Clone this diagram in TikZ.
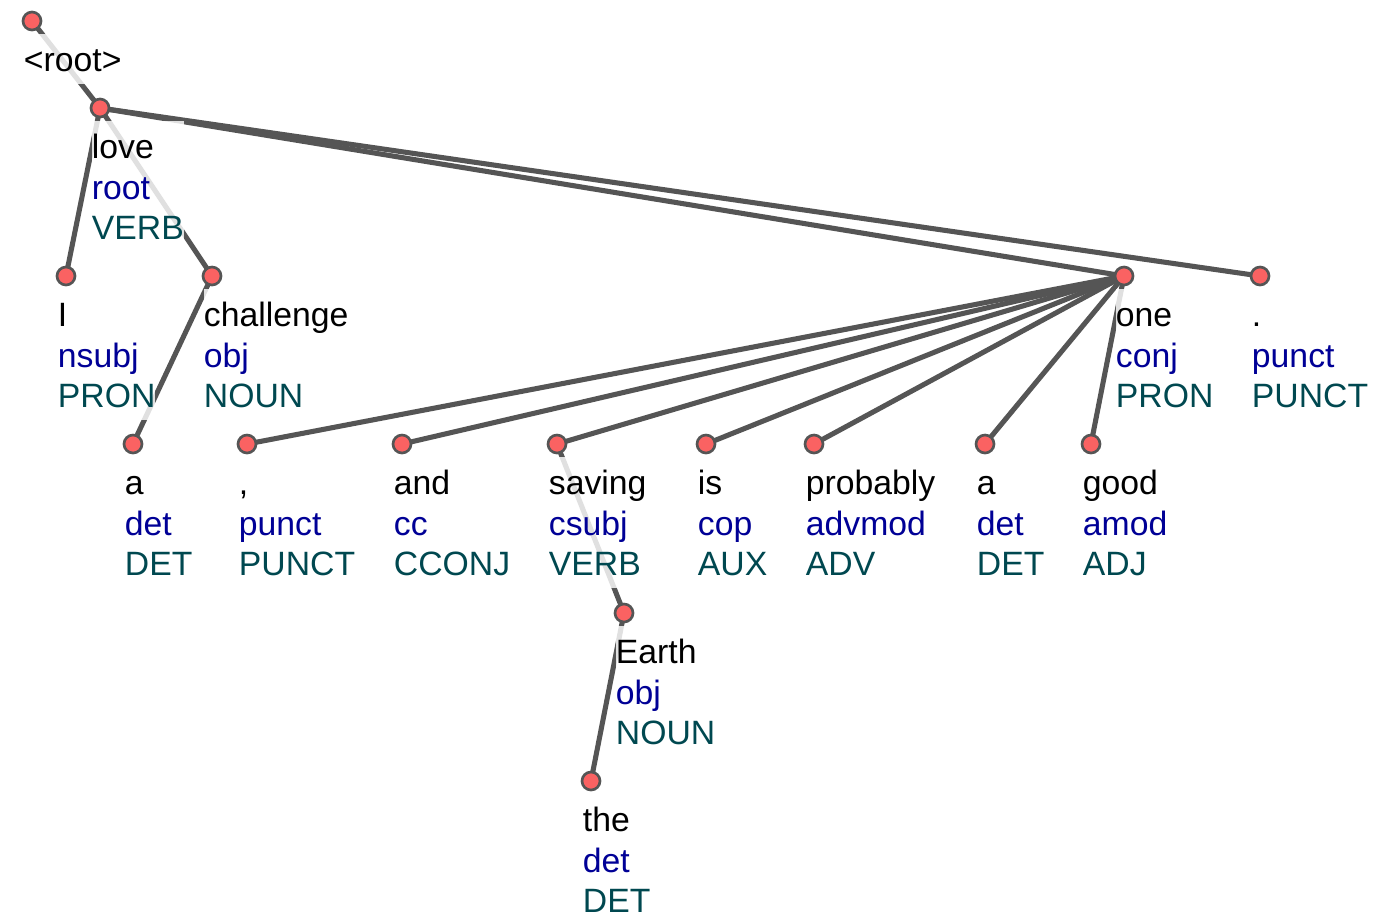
\documentclass[tikz,border=0pt]{standalone}
\usepackage{fontspec}
\setmainfont{Liberation Sans}
\usetikzlibrary{backgrounds}
\definecolor{tokred}{RGB}{250,98,98}
\definecolor{edgegray}{RGB}{85,85,85}
\definecolor{relblue}{RGB}{0,0,150}
\definecolor{posteal}{RGB}{0,72,80}
\tikzset{every picture/.style={line width=0.75pt}}
\tikzset{
  tok/.style={circle, draw=edgegray, fill=tokred, line width=2pt, inner sep=0pt, minimum size=13.5pt},
  dep/.style={draw=edgegray, line width=3.8pt},
  lbl/.style={anchor=north west, xshift=-6.4pt, yshift=-9.5pt, inner sep=0pt, fill=white, fill opacity=0.82, text opacity=1, align=left, font=\fontsize{25.3}{30.4}\selectfont},
}
% word / relation / part of speech, one per line
\newcommand{\tokline}[3]{\rule{0pt}{28pt}#1\\\textcolor{relblue}{#2}\strut\\\textcolor{posteal}{#3}\strut}

\begin{document}
\begin{tikzpicture}[x=0.75pt,y=0.75pt,yscale=-1,xscale=1]
\useasboundingbox (0,0) rectangle (1395,915);

%Shape: Circle (tokens)
\node[tok] (n-root) at (32,21) {};
\node[tok] (n-love) at (100,108) {};
\node[tok] (n-i) at (66,276) {};
\node[tok] (n-challenge) at (212,276) {};
\node[tok] (n-one) at (1124,276) {};
\node[tok] (n-period) at (1260,276) {};
\node[tok] (n-a) at (133,444) {};
\node[tok] (n-comma) at (247,444) {};
\node[tok] (n-and) at (402,444) {};
\node[tok] (n-saving) at (557,444) {};
\node[tok] (n-is) at (706,444) {};
\node[tok] (n-probably) at (814,444) {};
\node[tok] (n-a2) at (985,444) {};
\node[tok] (n-good) at (1091,444) {};
\node[tok] (n-earth) at (624,613) {};
\node[tok] (n-the) at (591,781) {};

% Text Node
\node[lbl] (l-root) at (n-root) {\rule{0pt}{28pt}<root>\strut};
\node[lbl] (l-love) at (n-love) {\tokline{love}{root}{VERB}};
\node[lbl] (l-i) at (n-i) {\tokline{I}{nsubj}{PRON}};
\node[lbl] (l-challenge) at (n-challenge) {\tokline{challenge}{obj}{NOUN}};
\node[lbl] (l-one) at (n-one) {\tokline{one}{conj}{PRON}};
\node[lbl] (l-period) at (n-period) {\tokline{.}{punct}{PUNCT}};
\node[lbl] (l-a) at (n-a) {\tokline{a}{det}{DET}};
\node[lbl] (l-comma) at (n-comma) {\tokline{,}{punct}{PUNCT}};
\node[lbl] (l-and) at (n-and) {\tokline{and}{cc}{CCONJ}};
\node[lbl] (l-saving) at (n-saving) {\tokline{saving}{csubj}{VERB}};
\node[lbl] (l-is) at (n-is) {\tokline{is}{cop}{AUX}};
\node[lbl] (l-probably) at (n-probably) {\tokline{probably}{advmod}{ADV}};
\node[lbl] (l-a2) at (n-a2) {\tokline{a}{det}{DET}};
\node[lbl] (l-good) at (n-good) {\tokline{good}{amod}{ADJ}};
\node[lbl] (l-earth) at (n-earth) {\tokline{Earth}{obj}{NOUN}};
\node[lbl] (l-the) at (n-the) {\tokline{the}{det}{DET}};

%Straight Lines (dependencies)
\begin{scope}[on background layer]
\draw[dep] (n-root.center) -- (n-love.center);
\draw[dep] (n-love.center) -- (n-i.center);
\draw[dep] (n-love.center) -- (n-challenge.center);
\draw[dep] (n-love.center) -- (n-one.center);
\draw[dep] (n-love.center) -- (n-period.center);
\draw[dep] (n-challenge.center) -- (n-a.center);
\foreach \d in {comma,and,saving,is,probably,a2,good}
  \draw[dep] (n-one.center) -- (n-\d.center);
\draw[dep] (n-saving.center) -- (n-earth.center);
\draw[dep] (n-earth.center) -- (n-the.center);
\end{scope}

\end{tikzpicture}
\end{document}
